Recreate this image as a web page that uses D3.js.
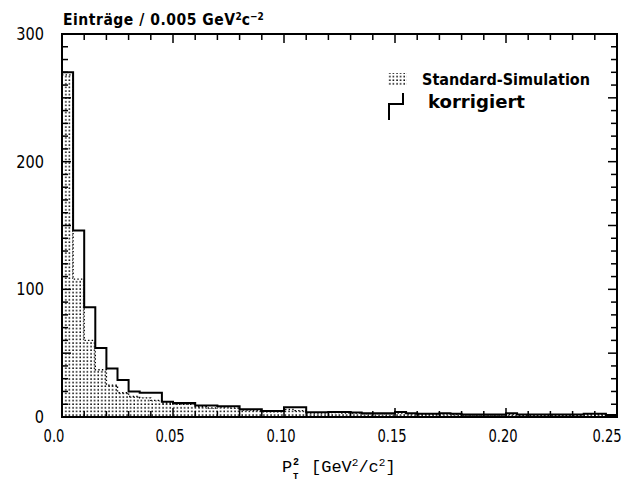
<!DOCTYPE html>
<html><head><meta charset="utf-8">
<script src="https://cdn.jsdelivr.net/npm/d3@7"></script>
<style>body{margin:0;background:#fff}</style>
</head><body>
<svg id="c" width="629" height="481"></svg>
<script>
// bin lower edges (bin width 0.005 GeV^2/c^2)
const binLow = [0.000,0.005,0.010,0.015,0.020,0.025,0.030,0.035,0.040,0.045,
                0.050,0.055,0.060,0.065,0.070,0.075,0.080,0.085,0.090,0.095,
                0.100,0.105,0.110,0.115,0.120,0.125,0.130,0.135,0.140,0.145,
                0.150,0.155,0.160,0.165,0.170,0.175,0.180,0.185,0.190,0.195,
                0.200,0.205,0.210,0.215,0.220,0.225,0.230,0.235,0.240,0.245];
const korrigiert = [270,146,86,54,38,29,20,19,19,12,
                    11,11,9,9,8.5,8.5,6,6,4.7,4.7,
                    7.6,7.6,3.7,3.7,4,4,3.5,3,3,3,
                    4,3,2.5,2.5,3,2.5,2,2,2,2,
                    3,2,2,2,2,2,2,2.5,2.5,1.5];
const standard = [268,108,60,37,25,19,16,15,13,11,
                  10,10,8,7,8,7,5.5,5,4,4,
                  6,5,3,3,3.5,3,3,2.5,2.5,2.5,
                  3,2.5,2,2,2.5,2,1.5,1.5,1.5,1.5,
                  2,1.5,1.5,1.5,1.5,1.5,1.5,2,2,1];
const xTickValues = [0,0.05,0.10,0.15,0.20,0.25];
const xTickLabels = ["0.0","0.05","0.10","0.15","0.20","0.25"];
const yTickValues = [0,100,200,300];
const yTickLabels = ["0","100","200","300"];
const legendLabels = ["Standard-Simulation","korrigiert"];

const svg = d3.select("#c");
const L=62, R=617, T=34, B=417;
const x = d3.scaleLinear().domain([0,0.25]).range([L,R]);
const y = d3.scaleLinear().domain([0,300]).range([B,T]);

const defs = svg.append("defs");
const pat = defs.append("pattern").attr("id","dots").attr("patternUnits","userSpaceOnUse")
  .attr("width",3.6).attr("height",3.6);
pat.append("rect").attr("x",0.3).attr("y",0.3).attr("width",1.5).attr("height",1.5).attr("fill","#000");

// standard simulation (dotted fill)
const stdPts = binLow.map((b,i)=>[b,standard[i]]).concat([[0.25,standard[standard.length-1]]]);
const area = d3.area().x(d=>x(d[0])).y0(y(0)).y1(d=>y(d[1])).curve(d3.curveStepAfter);
svg.append("path").attr("d",area(stdPts)).attr("fill","url(#dots)");
const line = d3.line().x(d=>x(d[0])).y(d=>y(d[1])).curve(d3.curveStepAfter);
svg.append("path").attr("d",line(stdPts)).attr("fill","none").attr("stroke","#000")
  .attr("stroke-width",1.4).attr("stroke-dasharray","1.4,2.2");

// korrigiert (solid step)
const kPts = [[0,0]].concat(binLow.map((b,i)=>[b,korrigiert[i]])).concat([[0.25,korrigiert[korrigiert.length-1]]]);
svg.append("path").attr("d",line(kPts)).attr("fill","none").attr("stroke","#000").attr("stroke-width",2);

// frame
svg.append("rect").attr("x",L).attr("y",T).attr("width",R-L).attr("height",B-T)
  .attr("fill","none").attr("stroke","#000").attr("stroke-width",2);

// ticks
const xMinor = d3.range(0,0.2501,0.01);
const yMinor = d3.range(0,300.1,10);
const isMajX = v => Math.abs(v/0.05 - Math.round(v/0.05))<1e-6;
const isMajY = v => v%50===0;
const tk = svg.append("g").attr("stroke","#000").attr("stroke-width",1.5);
xMinor.forEach(v=>{
  const len = isMajX(v)?9:6;
  tk.append("line").attr("x1",x(v)).attr("x2",x(v)).attr("y1",B).attr("y2",B-len);
  tk.append("line").attr("x1",x(v)).attr("x2",x(v)).attr("y1",T).attr("y2",T+len);
});
yMinor.forEach(v=>{
  const len = isMajY(v)?9:6;
  tk.append("line").attr("x1",L).attr("x2",L+len).attr("y1",y(v)).attr("y2",y(v));
  tk.append("line").attr("x1",R).attr("x2",R-len).attr("y1",y(v)).attr("y2",y(v));
});

const numFont = "'DejaVu Sans Condensed','Liberation Sans Narrow','Liberation Sans',sans-serif";
xTickValues.forEach((v,i)=>{
  const cx = i===0 ? x(v)-8 : (i===xTickValues.length-1 ? x(v)-10 : x(v)-3);
  svg.append("text").attr("transform",`translate(${cx},442) scale(0.86,1)`).attr("text-anchor","middle")
    .attr("font-family",numFont).attr("font-size",17).text(xTickLabels[i]);
});
yTickValues.forEach((v,i)=>{
  svg.append("text").attr("transform",`translate(44,${y(v)+6}) scale(0.95,1)`).attr("text-anchor","end")
    .attr("font-family",numFont).attr("font-size",17).text(yTickLabels[i]);
});

// title
const title = svg.append("text").attr("x",63).attr("y",25)
  .attr("font-family",numFont).attr("font-size",15.5).attr("font-weight","bold");
title.append("tspan").attr("textLength",172).attr("lengthAdjust","spacing").text("Einträge / 0.005 GeV");
title.append("tspan").attr("font-size",10).attr("dy",-5).text("2");
title.append("tspan").attr("dy",5).text("c");
title.append("tspan").attr("font-size",10).attr("dy",-5).text("−2");

// x label
const xl = svg.append("g").attr("font-family","'Liberation Mono','DejaVu Sans Mono',monospace");
xl.append("text").attr("x",282).attr("y",472).attr("font-size",17).text("P");
xl.append("text").attr("x",293).attr("y",465).attr("font-size",10).attr("font-weight","bold").text("2");
xl.append("text").attr("x",293).attr("y",479).attr("font-size",9).attr("font-weight","bold").text("T");
const xl2 = xl.append("text").attr("x",311).attr("y",472).attr("font-size",17);
xl2.append("tspan").text("[GeV");
xl2.append("tspan").attr("font-size",11).attr("dy",-6).text("2");
xl2.append("tspan").attr("dy",6).text("/c");
xl2.append("tspan").attr("font-size",11).attr("dy",-6).text("2");
xl2.append("tspan").attr("dy",6).text("]");

// legend
svg.append("rect").attr("x",387).attr("y",73).attr("width",20).attr("height",12).attr("fill","url(#dots)");
svg.append("path").attr("d","M403,93V104H389V120").attr("fill","none").attr("stroke","#000").attr("stroke-width",2);
svg.append("text").attr("x",422).attr("y",85).attr("font-family",numFont).attr("font-size",15.5)
  .attr("font-weight","bold").attr("textLength",168).attr("lengthAdjust","spacingAndGlyphs").text(legendLabels[0]);
svg.append("text").attr("x",428).attr("y",108).attr("font-family",numFont).attr("font-size",17)
  .attr("font-weight","bold").attr("textLength",97).attr("lengthAdjust","spacingAndGlyphs").text(legendLabels[1]);
</script>
</body></html>
